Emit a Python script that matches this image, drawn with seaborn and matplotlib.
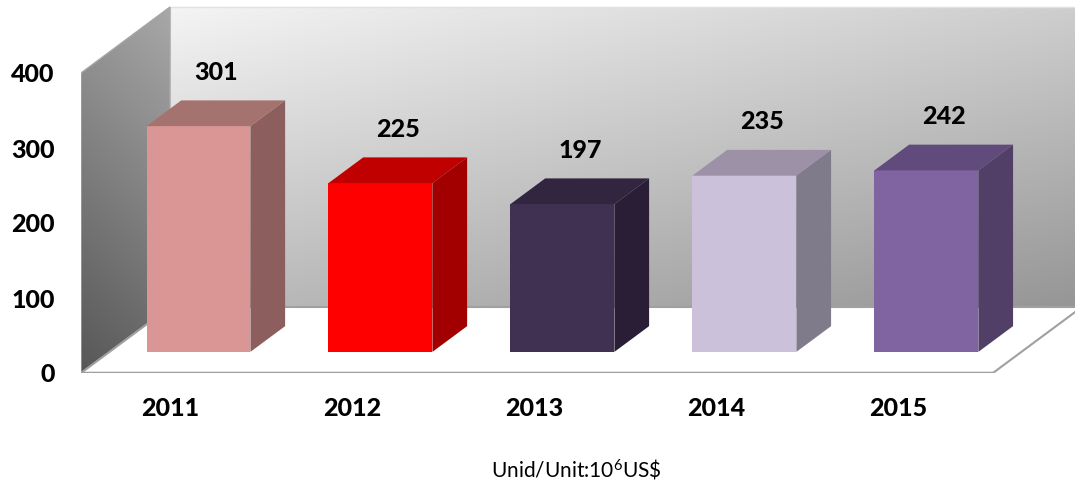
# ============================================================
# 3D STYLE BAR CHART - YEARLY VALUES (10^6 US$)
# ============================================================

import numpy as np
import matplotlib
matplotlib.use("Agg")
import matplotlib.pyplot as plt
from matplotlib.patches import Polygon
from matplotlib.colors import to_rgb
import seaborn as sns


# ============================================================
# DATA
# ============================================================

years = ["2011", "2012", "2013", "2014", "2015"]
values = [301, 225, 197, 235, 242]

front_colors = ["#D99694", "#FF0000", "#403152", "#CCC1DA", "#8064A2"]
top_colors = ["#A5736F", "#C00000", "#31253F", "#9C91A6", "#614A7C"]
side_colors = ["#8C5F5E", "#A20000", "#291E35", "#807B8A", "#523F68"]

y_ticks = [0, 100, 200, 300, 400]
unit_label = r"Unid/Unit:10$^{\mathregular{6}}$US\$"


# ============================================================
# STYLE
# ============================================================

sns.set_theme(style="white")
plt.rcParams["font.family"] = ["Lato", "DejaVu Sans"]
plt.rcParams["mathtext.fontset"] = "custom"
plt.rcParams["mathtext.rm"] = "Lato"
plt.rcParams["mathtext.it"] = "Lato"
plt.rcParams["mathtext.bf"] = "Lato:bold"

# 3d box geometry, in data units (x = category, y = value)
DEPTH_X = 0.489      # how far the back wall sits to the right
DEPTH_Y = 88         # how far the back wall sits up
BAR_FRONT = 0.32     # bar front plane, as fraction of the depth
BAR_DEPTH = 0.39     # bar thickness, as fraction of the depth
BAR_WIDTH = 0.571
WALL_TOP = 400
WEIGHT = "black"
FSIZE = 18


def gradient_poly(ax, pts, c_light, c_dark, wu, wv, z, edge="#A6A6A6"):
    # fill a polygon with a linear gradient (imshow clipped to polygon)
    pts = np.array(pts)
    patch = Polygon(pts, closed=True, facecolor="none",
                    edgecolor=edge, linewidth=1, zorder=z + 0.1)
    ax.add_patch(patch)
    u, v = np.meshgrid(np.linspace(0, 1, 200), np.linspace(0, 1, 200))
    t = wu(u) + wv(v)
    t = (t - t.min()) / (t.max() - t.min())
    c0 = np.array(to_rgb(c_light))
    c1 = np.array(to_rgb(c_dark))
    img = c0[None, None, :] * (1 - t[..., None]) + c1[None, None, :] * t[..., None]
    ext = (pts[:, 0].min(), pts[:, 0].max(), pts[:, 1].min(), pts[:, 1].max())
    im = ax.imshow(img, extent=ext, origin="lower", aspect="auto", zorder=z)
    im.set_clip_path(patch)


# ============================================================
# FIGURE
# ============================================================

fig = plt.figure(figsize=(10.75, 4.88), dpi=100)
ax = fig.add_axes([81 / 1075, 115 / 488, 994 / 1075, 373 / 488])

n = len(years)
floor_right = n - 0.478
x_right = n - 0.027

# ---------- BARS (front faces from seaborn) ----------

sns.barplot(
    x=years,
    y=values,
    hue=years,
    palette=front_colors,
    saturation=1,
    width=BAR_WIDTH,
    legend=False,
    linewidth=0,
    zorder=5,
    ax=ax
)

bars = [b for c in ax.containers for b in c]

# ---------- WALLS AND FLOOR ----------

left_wall = [(-DEPTH_X, 0), (-DEPTH_X, WALL_TOP),
             (0, WALL_TOP + DEPTH_Y), (0, DEPTH_Y)]
back_wall = [(0, DEPTH_Y), (0, WALL_TOP + DEPTH_Y),
             (x_right + 1, WALL_TOP + DEPTH_Y), (x_right + 1, DEPTH_Y)]
floor = [(-DEPTH_X, 0), (floor_right, 0),
         (floor_right + DEPTH_X, DEPTH_Y), (0, DEPTH_Y)]

gradient_poly(ax, back_wall, "#F4F4F4", "#8E8E8E",
              lambda u: 0.45 * u, lambda v: 0.55 * (1 - v), 0, edge="#E0E0E0")
gradient_poly(ax, left_wall, "#A8A8A8", "#575757",
              lambda u: 0.2 * (1 - u), lambda v: 0.8 * (1 - v), 1)

ax.add_patch(Polygon(floor, closed=True, facecolor="white",
                     edgecolor="#A0A0A0", linewidth=1.5, zorder=2))
ax.plot([-DEPTH_X, floor_right], [0, 0], color="#A0A0A0",
        linewidth=2.5, zorder=2.5, solid_capstyle="butt")

# ---------- TOP AND SIDE FACES ----------

bdx = BAR_DEPTH * DEPTH_X
bdy = BAR_DEPTH * DEPTH_Y

for p, val, top_c, side_c in zip(bars, values, top_colors, side_colors):
    x0 = p.get_x() + BAR_FRONT * DEPTH_X
    y0 = BAR_FRONT * DEPTH_Y
    w = p.get_width()
    h = p.get_height()
    p.set_x(x0)
    p.set_y(y0)

    top = [(x0, y0 + h), (x0 + w, y0 + h),
           (x0 + w + bdx, y0 + h + bdy), (x0 + bdx, y0 + h + bdy)]
    side = [(x0 + w, y0), (x0 + w + bdx, y0 + bdy),
            (x0 + w + bdx, y0 + h + bdy), (x0 + w, y0 + h)]
    ax.add_patch(Polygon(top, closed=True, facecolor=top_c,
                         edgecolor="none", zorder=5))
    ax.add_patch(Polygon(side, closed=True, facecolor=side_c,
                         edgecolor="none", zorder=5))

    ax.text(x0 + w / 2 + bdx / 2, y0 + h + 72, str(val),
            ha="center", va="center", fontsize=FSIZE, fontweight=WEIGHT,
            color="black", zorder=6)

# ---------- AXES ----------

ax.set_xlim(-DEPTH_X, x_right)
ax.set_ylim(0, 373 / 0.75)

ax.set_xticks(range(n))
ax.set_xticklabels(years, fontsize=FSIZE, fontweight=WEIGHT)
ax.set_yticks(y_ticks)
ax.set_yticklabels([str(t) for t in y_ticks], fontsize=FSIZE, fontweight=WEIGHT)
ax.tick_params(axis="y", length=0, pad=19, colors="black")
ax.tick_params(axis="x", length=0, pad=17, colors="black")
ax.set_xlabel("")
ax.set_ylabel("")

for s in ax.spines.values():
    s.set_visible(False)
ax.grid(False)
ax.set_facecolor("white")

fig.text(576 / 1075, 1 - 470 / 488, unit_label, ha="center", va="center",
         fontsize=15, color="black")

fig.savefig("out.png", dpi=100, facecolor="white")
